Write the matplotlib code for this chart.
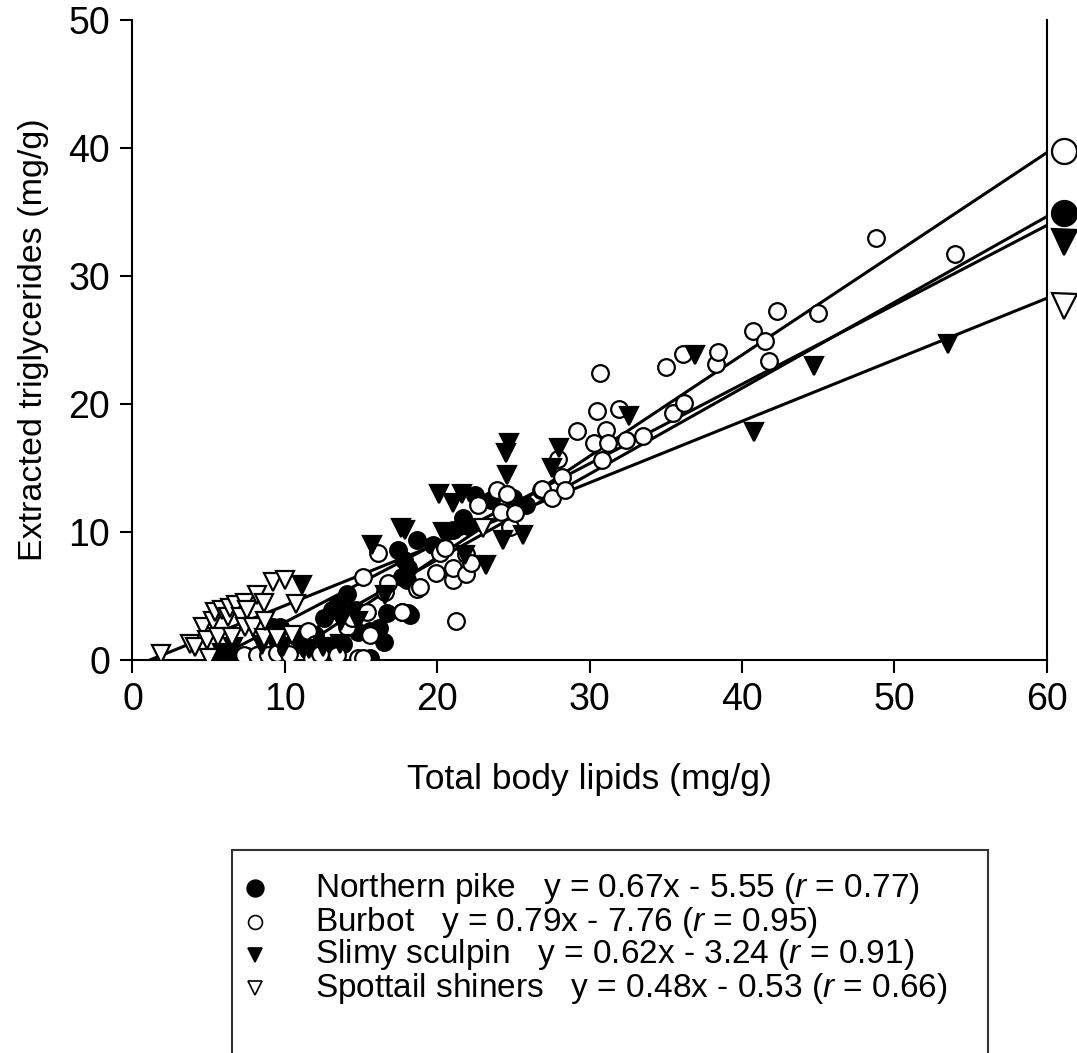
import numpy as np
import matplotlib.pyplot as plt
from matplotlib.lines import Line2D
from matplotlib.patches import Rectangle

plt.rcParams['font.family'] = ['Liberation Sans', 'DejaVu Sans']
plt.rcParams['mathtext.fontset'] = 'custom'
plt.rcParams['mathtext.rm'] = 'Liberation Sans'
plt.rcParams['mathtext.it'] = 'Liberation Sans:italic'

# data (total body lipids, extracted triglycerides), mg/g
pike_x = [6.5, 7.5, 8.3, 9.0, 9.2, 9.5, 9.7, 10.7, 11.0, 11.5, 12.0, 12.6, 12.8, 13.0,
          13.1, 13.4, 13.8, 14.1, 14.3, 14.7, 14.8, 15.6, 15.6, 16.2, 16.5, 16.7, 17.4,
          17.7, 17.8, 18.0, 18.1, 18.1, 18.2, 18.7, 19.7, 21.0, 21.7, 22.0, 22.5, 23.5,
          25.0, 25.8]
pike_y = [0.5, 0.3, 0.5, 0.4, 2.6, 1.6, 2.6, 2.0, 1.3, 0.8, 2.0, 3.3, 0.4, 1.0,
          3.9, 4.3, 1.3, 5.2, 3.75, 3.9, 2.2, 0.15, 2.3, 2.5, 1.4, 3.7, 8.6,
          6.5, 7.8, 6.25, 7.2, 3.7, 3.5, 9.4, 9.0, 10.2, 11.1, 10.5, 12.9, 12.5,
          12.7, 12.1]

burbot_x = [7.3, 8.2, 8.9, 9.5, 10.1, 10.3, 11.5, 11.8, 12.0, 12.3, 13.4, 14.1, 14.4,
            14.8, 15.1, 15.1, 15.4, 15.6, 16.1, 16.6, 16.8, 17.7, 17.7, 18.7, 18.9,
            19.9, 20.2, 20.5, 21.0, 21.0, 21.2, 21.9, 21.9, 22.2, 22.7, 23.9, 24.2,
            24.6, 24.8, 25.1, 26.8, 26.9, 27.5, 27.9, 28.2, 28.4, 29.2, 30.3, 30.5,
            30.7, 30.8, 31.1, 31.2, 31.9, 32.4, 33.5, 35.0, 35.5, 36.1, 36.2, 38.3,
            38.4, 40.7, 41.5, 41.8, 42.3, 45.0, 48.8, 54.0]
burbot_y = [0.4, 0.4, 0.4, 0.6, 0.9, 0.5, 2.3, 0.2, 1.3, 0.5, 0.4, 2.6, 3.3,
            0.2, 6.5, 0.2, 3.75, 2.0, 8.4, 5.3, 6.0, 3.75, 3.75, 5.6, 5.7,
            6.8, 8.4, 8.75, 6.25, 7.2, 3.1, 6.7, 8.3, 7.6, 12.1, 13.3, 11.6,
            13.0, 10.4, 11.5, 13.3, 13.4, 12.7, 15.7, 14.3, 13.3, 17.9, 17.0, 19.5,
            22.4, 15.6, 18.0, 17.0, 19.6, 17.2, 17.5, 22.9, 19.3, 23.9, 20.1, 23.1,
            24.1, 25.7, 24.9, 23.4, 27.3, 27.1, 33.0, 31.7]

sculpin_x = [5.7, 5.9, 6.6, 8.5, 9.9, 11.1, 11.6, 12.5, 13.6, 13.7, 14.8, 15.7, 16.6,
             17.6, 17.9, 20.1, 20.4, 21.0, 21.6, 21.8, 23.2, 24.3, 24.5, 24.6, 24.7,
             25.6, 27.5, 28.0, 32.6, 36.9, 40.8, 44.7, 53.5]
sculpin_y = [0.2, 0.6, 1.0, 1.2, 1.0, 5.9, 0.9, 1.0, 1.3, 3.1, 3.1, 9.0, 5.1,
             10.3, 10.2, 13.0, 10.0, 12.3, 13.0, 8.2, 7.4, 9.4, 16.2, 14.5, 17.0,
             9.8, 15.0, 16.6, 19.1, 23.8, 17.8, 23.0, 24.7]

shiner_x = [1.9, 3.8, 4.1, 4.6, 4.9, 5.0, 5.3, 5.4, 5.6, 5.9, 6.3, 6.4, 6.5, 6.8,
            7.1, 7.4, 7.4, 7.5, 7.9, 8.2, 8.6, 8.6, 8.7, 9.2, 9.5, 10.0, 10.5, 10.7,
            23.0]
shiner_y = [0.5, 1.3, 1.0, 2.6, 1.6, 0.15, 3.1, 3.75, 1.8, 3.9, 3.4, 4.1, 1.8, 4.3,
            3.4, 4.5, 2.6, 3.9, 2.6, 5.1, 4.5, 1.7, 3.1, 6.1, 1.7, 6.3, 1.95, 4.4,
            10.3]

# regression lines (slope, intercept) and end-of-line symbols
species = ['Northern pike', 'Burbot', 'Slimy sculpin', 'Spottail shiners']
slopes = [0.67, 0.79, 0.62, 0.48]
intercepts = [-5.55, -7.76, -3.24, -0.53]
r_values = [0.77, 0.95, 0.91, 0.66]
end_y = [34.9, 39.8, 32.7, 27.7]

xs = [pike_x, burbot_x, sculpin_x, shiner_x]
ys = [pike_y, burbot_y, sculpin_y, shiner_y]
markers = ['o', 'o', 'v', 'v']
faces = ['black', 'white', 'black', 'white']
sizes = [12, 12, 13.5, 13.5]

fig = plt.figure(figsize=(10.77, 10.53), dpi=100)
ax = fig.add_axes([0.123, 0.373, 0.849, 0.608])

for m, b in zip(slopes, intercepts):
    x0 = max(-b / m, 0)
    xl = np.array([x0, 60])
    ax.plot(xl, m * xl + b, color='black', lw=2.2, zorder=1)

for x, y, mk, fc, s in zip(xs, ys, markers, faces, sizes):
    ax.plot(x, y, linestyle='none', marker=mk, ms=s, mfc=fc, mec='black',
            mew=1.6, zorder=3)

# big symbols at the right end of the lines
for yv, mk, fc in zip(end_y, markers, faces):
    ax.plot([61.1], [yv], marker=mk, ms=18, mfc=fc, mec='black', mew=1.6,
            clip_on=False, linestyle='none')

ax.set_xlim(0, 60)
ax.set_ylim(0, 50)
ax.set_xticks(range(0, 61, 10))
ax.set_yticks(range(0, 51, 10))
ax.spines['top'].set_visible(False)
for sp in ax.spines.values():
    sp.set_linewidth(1.5)
ax.tick_params(direction='out', length=9, width=1.5, labelsize=27, pad=7)
ax.set_xlabel('Total body lipids (mg/g)', fontsize=25.5, labelpad=32)
ax.set_ylabel('Extracted triglycerides (mg/g)', fontsize=24.5, labelpad=14)

# legend box (runs off the bottom edge as in the original)
fig.patches.append(Rectangle((0.2154, -0.05), 0.702, 0.243, transform=fig.transFigure,
                             fill=False, edgecolor='#333333', lw=1.5))
row_y = [888, 922, 955, 988]
leg_ms = [12, 10, 10, 10]
for name, m, b, r, py, mk, fc, lms in zip(species, slopes, intercepts, r_values,
                                          row_y, markers, faces, leg_ms):
    yf = 1 - py / 1053
    fig.add_artist(Line2D([255 / 1077], [yf], marker=mk, ms=lms, mfc=fc, mec='black',
                          mew=1.2, linestyle='none', transform=fig.transFigure))
    label = f'{name}   y = {m:.2f}x - {abs(b):.2f} ($r$ = {r:.2f})'
    fig.text(315 / 1077, yf, label, fontsize=24, va='center', ha='left')

fig.savefig('out.png', dpi=100)
